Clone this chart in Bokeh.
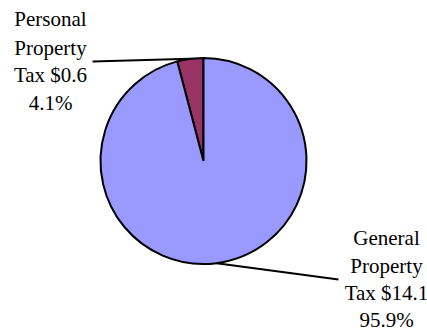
import numpy as np
from bokeh.plotting import figure
from bokeh.models import Range1d
from bokeh.core.properties import value
from bokeh.embed import file_html
from bokeh.resources import INLINE

# ---- data ----
categories = ["Personal Property Tax", "General Property Tax"]
amounts = [0.6, 14.1]
percents = [4.1, 95.9]
colors = ["#993366", "#9999FF"]
label_lines = [
    ["Personal", "Property", "Tax $0.6", "4.1%"],
    ["General", "Property", "Tax $14.1", "95.9%"],
]

W, H = 427, 330
p = figure(width=W, height=H, output_backend="svg", toolbar_location=None,
           x_range=Range1d(0, W), y_range=Range1d(0, H), min_border=0)
p.axis.visible = False
p.grid.visible = False
p.outline_line_color = None
p.background_fill_color = "white"
p.border_fill_color = "white"

cx, cy, r = 203, H - 160.5, 103
frac = np.array(percents) / sum(percents)
ang = frac * 2 * np.pi
starts = np.pi / 2 + np.concatenate([[0], np.cumsum(ang)[:-1]])
ends = starts + ang

p.wedge(x=cx, y=cy, radius=r, start_angle=starts, end_angle=ends,
        fill_color=colors, line_color="black", line_width=2, direction="anticlock")

# leader lines
mids = (starts + ends) / 2
anchors = [(92, H - 61), (338, H - 279)]
for m, (ax, ay) in zip(mids, anchors):
    px, py = cx + r * np.cos(m), cy + r * np.sin(m)
    p.line([ax, px], [ay, py], line_color="black", line_width=2)

# labels
label_x = [50, 386]
label_base = [[18, 47, 74, 102], [237, 265, 292, 319]]
for lines, lx, bases in zip(label_lines, label_x, label_base):
    p.text(x=[lx] * len(lines), y=[H - b for b in bases], text=lines,
           text_font=value("'Liberation Serif', 'Times New Roman', serif"), text_font_size="21px",
           text_align="center", text_baseline="alphabetic", text_color="black")

open("out.html", "w").write(file_html(p, INLINE))
